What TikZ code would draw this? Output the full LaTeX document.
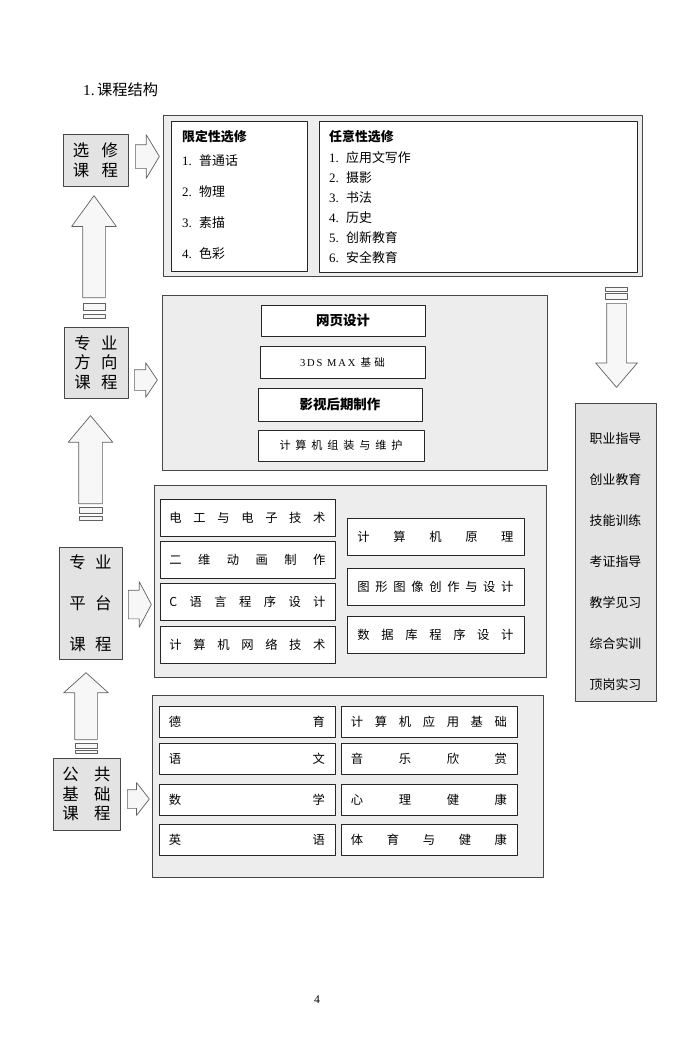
\documentclass[tikz,border=0pt]{standalone}
\usepackage{fontspec}
\newfontfamily\cjk{Noto Sans CJK SC}
\newfontfamily\tms{Liberation Serif}
\newfontfamily\tmsl{Liberation Serif}[LetterSpace=18]
\usetikzlibrary{shapes.arrows}
\newcommand\pxu{0.3mm}
\newcommand\spr[2][46.8mm]{\makebox[#1][s]{#2}}

\begin{document}
\begin{tikzpicture}[line cap=round,line join=round,x=0.03cm,y=-0.03cm,
    grp/.style={draw=black!72,fill=gray!14,line width=0.8pt,inner sep=0pt},
    tag/.style={draw=black!72,fill=gray!22,line width=0.7pt,inner sep=0pt,align=center},
    item/.style={draw=black!85,fill=white,line width=0.7pt,inner sep=0pt,minimum width=176*\pxu,font=\cjk\fontsize{10.5}{12}\selectfont},
    blk/.style={single arrow,draw=black!62,fill=gray!6,line width=0.6pt,inner xsep=0pt,minimum width=0pt},
    bar/.style={draw=black!62,fill=gray!6,line width=0.5pt},
    txt/.style={font=\cjk\fontsize{11}{13}\selectfont,inner sep=0pt},
    hd/.style={font=\cjk\bfseries\fontsize{11}{13}\selectfont,inner sep=0pt}]

    \useasboundingbox (0,0) rectangle (695,1053);

    \node[anchor=west,inner sep=0pt] (ttl) at (83,90) {\tms\fontsize{13}{15}\selectfont 1.\,\cjk 课程结构};

    % elective courses
    \node[tag,minimum width=65*\pxu,minimum height=52*\pxu,font=\cjk\fontsize{14}{17}\selectfont] (xx) at (95.5,160) {选\hspace{3.7mm}修\\课\hspace{3.7mm}程};
    \node[blk,anchor=tail,inner ysep=11.5*\pxu,single arrow head extend=10*\pxu,single arrow tip angle=118,minimum height=24*\pxu] (rxx) at (135,156.5) {};
    \node[grp,minimum width=479*\pxu,minimum height=161*\pxu] (gxx) at (402.5,195.5) {};
    \node[item,minimum width=136*\pxu,minimum height=150*\pxu] (lim) at (239,196) {};
    \node[item,minimum width=318*\pxu,minimum height=151*\pxu] (any) at (478,196.5) {};
    \node[hd,anchor=west] (limh) at (182,137) {限定性选修};
    \foreach \t [count=\i] in {普通话,物理,素描,色彩}
        \node[txt,anchor=west] (lim\i) at (182,130+31*\i) {{\tms\i.}\hspace{2.2mm}\t};
    \node[hd,anchor=west] (anyh) at (329,137) {任意性选修};
    \foreach \t [count=\i] in {应用文写作,摄影,书法,历史,创新教育,安全教育}
        \node[txt,anchor=west] (any\i) at (329,138+20*\i) {{\tms\i.}\hspace{2.2mm}\t};

    % up arrow 1
    \node[blk,rotate=90,anchor=tail,inner ysep=11*\pxu,single arrow head extend=11*\pxu,single arrow tip angle=72,minimum height=102*\pxu] (uxx) at (94,298) {};
    \draw[bar] (83,303) rectangle (105,310);
    \draw[bar] (83,314) rectangle (105,318);

    % direction courses
    \node[tag,minimum width=64*\pxu,minimum height=71*\pxu,font=\cjk\fontsize{14}{16.5}\selectfont] (fx) at (96,362.5) {专\hspace{3.1mm}业\\方\hspace{3.1mm}向\\课\hspace{3.1mm}程};
    \node[blk,anchor=tail,inner ysep=10*\pxu,single arrow head extend=7*\pxu,single arrow tip angle=112,minimum height=23*\pxu] (rfx) at (134,380) {};
    \node[grp,minimum width=385*\pxu,minimum height=175*\pxu] (gfx) at (354.5,382.5) {};
    \node[item,minimum width=164*\pxu,minimum height=31*\pxu,font=\cjk\bfseries\fontsize{11.5}{13}\selectfont] (wy) at (343,320.5) {网页设计};
    \node[item,minimum width=165*\pxu,minimum height=32*\pxu] (mx) at (342.5,362) {\tmsl\fontsize{9}{11}\selectfont 3DS MAX\hspace{1.5mm}\cjk 基\hspace{1mm}础};
    \node[item,minimum width=164*\pxu,minimum height=33*\pxu,font=\cjk\bfseries\fontsize{11.5}{13}\selectfont] (ys) at (340,404.5) {影视后期制作};
    \node[item,minimum width=166*\pxu,minimum height=31*\pxu,font=\cjk\fontsize{9.5}{11}\selectfont] (zz) at (341,445.5) {\spr[36.9mm]{计 算 机 组 装 与 维 护}};

    % up arrow 2
    \node[blk,rotate=90,anchor=tail,inner ysep=11.5*\pxu,single arrow head extend=10.5*\pxu,single arrow tip angle=80,minimum height=88*\pxu] (ufx) at (90.5,504) {};
    \draw[bar] (79,507) rectangle (102,513);
    \draw[bar] (79,516) rectangle (102,520);

    % platform courses
    \node[tag,minimum width=63*\pxu,minimum height=112*\pxu,font=\cjk\fontsize{14}{35}\selectfont] (pt) at (90.5,603) {专\hspace{2.8mm}业\\平\hspace{2.8mm}台\\课\hspace{2.8mm}程};
    \node[blk,anchor=tail,inner ysep=14*\pxu,single arrow head extend=8.5*\pxu,single arrow tip angle=124,minimum height=23*\pxu] (rpt) at (128,604.5) {};
    \node[grp,minimum width=392*\pxu,minimum height=192*\pxu] (gpt) at (350,581) {};
    \foreach \t/\y [count=\i] in {电 工 与 电 子 技 术/518, 二 维 动 画 制 作/560, C 语 言 程 序 设 计/602, 计 算 机 网 络 技 术/645}
        \node[item,minimum width=175*\pxu,minimum height=37*\pxu] (ptl\i) at (247.5,\y) {\spr{\t}};
    \foreach \t/\y [count=\i] in {计 算 机 原 理/536.5, 图 形 图 像 创 作 与 设 计/587, 数 据 库 程 序 设 计/634.5}
        \node[item,minimum width=177*\pxu,minimum height=37*\pxu] (ptr\i) at (435.5,\y) {\spr{\t}};

    % up arrow 3
    \node[blk,rotate=90,anchor=tail,inner ysep=11*\pxu,single arrow head extend=11*\pxu,single arrow tip angle=96,minimum height=67*\pxu] (upt) at (86,740) {};
    \draw[bar] (75,743) rectangle (97,748);
    \draw[bar] (75,750) rectangle (97,753);

    % common base courses
    \node[tag,minimum width=67*\pxu,minimum height=72*\pxu,font=\cjk\fontsize{14}{16.5}\selectfont] (gg) at (86.5,794) {公\hspace{4.6mm}共\\基\hspace{4.6mm}础\\课\hspace{4.6mm}程};
    \node[blk,anchor=tail,inner ysep=9*\pxu,single arrow head extend=7*\pxu,single arrow tip angle=104,minimum height=22*\pxu] (rgg) at (127,799) {};
    \node[grp,minimum width=391*\pxu,minimum height=182*\pxu] (ggg) at (347.5,786) {};
    \foreach \t/\y [count=\i] in {德 育/722, 语 文/758.5, 数 学/799.5, 英 语/840}
        \node[item,minimum height=31*\pxu] (ggl\i) at (247,\y) {\spr{\t}};
    \foreach \t/\y [count=\i] in {计 算 机 应 用 基 础/722, 音 乐 欣 赏/758.5, 心 理 健 康/799.5, 体 育 与 健 康/840}
        \node[item,minimum height=31*\pxu] (ggr\i) at (429,\y) {\spr{\t}};

    % practice column
    \draw[bar] (605,287) rectangle (627,291);
    \draw[bar] (605,293) rectangle (627,299);
    \node[blk,rotate=-90,anchor=tail,inner ysep=9.5*\pxu,single arrow head extend=11*\pxu,single arrow tip angle=81,minimum height=84*\pxu] (dsx) at (616.5,303) {};
    \node[tag,minimum width=81*\pxu,minimum height=298*\pxu] (sx) at (615.5,552) {};
    \foreach \t [count=\i from 0] in {职业指导,创业教育,技能训练,考证指导,教学见习,综合实训,顶岗实习}
        \node[txt] (sx\i) at (615.5,439+41*\i) {\t};

    \node[font=\tms\fontsize{10}{12}\selectfont,inner sep=0pt] (pg) at (317,1000) {4};

\end{tikzpicture}
\end{document}
